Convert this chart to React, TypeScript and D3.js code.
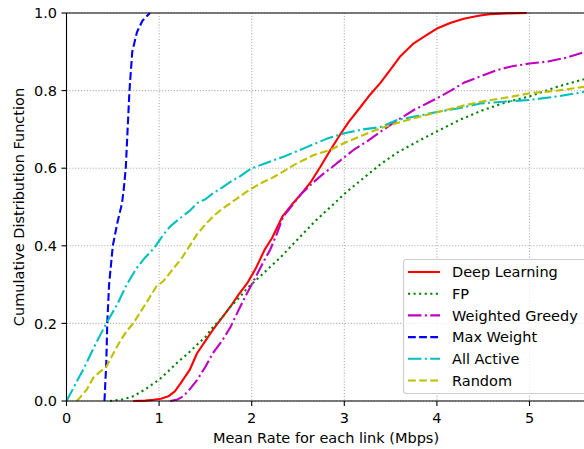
import { scaleLinear, line } from "d3";

// CDF curves
const deepLearningX = [0.72, 0.85, 0.94, 1.02, 1.1, 1.17, 1.23, 1.33, 1.41, 1.5, 1.58, 1.68, 1.77, 1.86, 1.95, 2.04, 2.14, 2.22, 2.33, 2.43, 2.54, 2.64, 2.74, 2.85, 2.95, 3.05, 3.15, 3.28, 3.39, 3.5, 3.6, 3.75, 3.9, 4.0, 4.15, 4.29, 4.45, 4.57, 4.75, 4.97];
const deepLearningY = [0, 0.001, 0.003, 0.006, 0.012, 0.025, 0.045, 0.08, 0.123, 0.155, 0.183, 0.215, 0.243, 0.275, 0.303, 0.34, 0.39, 0.42, 0.475, 0.505, 0.535, 0.565, 0.603, 0.647, 0.685, 0.72, 0.75, 0.79, 0.82, 0.855, 0.887, 0.922, 0.945, 0.96, 0.975, 0.985, 0.993, 0.997, 0.999, 1.0];

const fpX = [0.47, 0.6, 0.72, 0.85, 1.0, 1.1, 1.2, 1.3, 1.41, 1.5, 1.58, 1.68, 1.77, 1.86, 1.95, 2.13, 2.31, 2.49, 2.67, 2.85, 3.03, 3.21, 3.39, 3.57, 3.8, 4.0, 4.25, 4.5, 4.75, 5.0, 5.3, 5.6];
const fpY = [0, 0.004, 0.012, 0.03, 0.055, 0.077, 0.1, 0.12, 0.145, 0.165, 0.19, 0.215, 0.243, 0.265, 0.29, 0.33, 0.37, 0.415, 0.46, 0.5, 0.54, 0.575, 0.61, 0.64, 0.67, 0.695, 0.725, 0.75, 0.77, 0.785, 0.81, 0.83];

const greedyX = [1.12, 1.2, 1.26, 1.33, 1.41, 1.5, 1.58, 1.68, 1.77, 1.86, 1.95, 2.04, 2.13, 2.2, 2.27, 2.34, 2.44, 2.54, 2.65, 2.76, 2.87, 3.0, 3.1, 3.25, 3.39, 3.55, 3.75, 3.9, 4.0, 4.15, 4.29, 4.45, 4.65, 4.8, 5.0, 5.2, 5.4, 5.6];
const greedyY = [0, 0.004, 0.012, 0.03, 0.054, 0.088, 0.123, 0.155, 0.19, 0.235, 0.278, 0.318, 0.36, 0.39, 0.43, 0.475, 0.505, 0.535, 0.56, 0.583, 0.603, 0.628, 0.647, 0.67, 0.694, 0.72, 0.75, 0.768, 0.78, 0.8, 0.82, 0.835, 0.853, 0.862, 0.87, 0.875, 0.885, 0.9];

const maxWeightX = [0.41, 0.42, 0.43, 0.44, 0.46, 0.5, 0.55, 0.58, 0.6, 0.62, 0.64, 0.66, 0.68, 0.71, 0.76, 0.82, 0.9];
const maxWeightY = [0, 0.05, 0.1, 0.2, 0.3, 0.4, 0.46, 0.49, 0.51, 0.55, 0.6, 0.7, 0.8, 0.9, 0.95, 0.98, 1.0];

const allActiveX = [0, 0.1, 0.2, 0.3, 0.43, 0.55, 0.65, 0.75, 0.85, 0.95, 1.05, 1.12, 1.22, 1.33, 1.41, 1.5, 1.58, 1.68, 1.77, 1.88, 2.0, 2.12, 2.23, 2.35, 2.45, 2.6, 2.8, 3.0, 3.2, 3.39, 3.57, 3.8, 4.0, 4.25, 4.47, 4.75, 5.0, 5.3, 5.6];
const allActiveY = [0, 0.045, 0.09, 0.14, 0.2, 0.25, 0.3, 0.34, 0.37, 0.395, 0.43, 0.45, 0.47, 0.49, 0.51, 0.52, 0.535, 0.55, 0.565, 0.58, 0.6, 0.61, 0.62, 0.63, 0.64, 0.655, 0.675, 0.69, 0.7, 0.706, 0.724, 0.735, 0.745, 0.755, 0.767, 0.772, 0.776, 0.785, 0.797];

const randomX = [0.11, 0.15, 0.22, 0.29, 0.36, 0.43, 0.5, 0.58, 0.65, 0.72, 0.8, 0.88, 0.97, 1.05, 1.15, 1.25, 1.37, 1.41, 1.5, 1.58, 1.68, 1.77, 1.86, 1.95, 2.04, 2.13, 2.22, 2.31, 2.4, 2.49, 2.58, 2.67, 2.85, 3.0, 3.2, 3.39, 3.55, 3.74, 3.9, 4.1, 4.3, 4.47, 4.75, 5.0, 5.3, 5.6];
const randomY = [0, 0.01, 0.03, 0.06, 0.075, 0.088, 0.12, 0.155, 0.18, 0.2, 0.23, 0.26, 0.295, 0.31, 0.34, 0.37, 0.415, 0.43, 0.455, 0.475, 0.495, 0.51, 0.525, 0.54, 0.553, 0.565, 0.575, 0.587, 0.6, 0.613, 0.623, 0.634, 0.647, 0.665, 0.685, 0.703, 0.715, 0.728, 0.738, 0.75, 0.762, 0.771, 0.782, 0.793, 0.8, 0.81];

const xTicks = [0, 1, 2, 3, 4, 5];
const yTicks = [0, 0.2, 0.4, 0.6, 0.8, 1.0];

const LW = 2.1;

const series = [
  { label: "Deep Learning", xs: deepLearningX, ys: deepLearningY, color: "#ff0000", dash: "none" },
  { label: "FP", xs: fpX, ys: fpY, color: "#008000", dash: `${LW},${LW * 1.65}` },
  { label: "Weighted Greedy", xs: greedyX, ys: greedyY, color: "#bf00bf", dash: `${LW * 6.4},${LW * 1.6},${LW},${LW * 1.6}` },
  { label: "Max Weight", xs: maxWeightX, ys: maxWeightY, color: "#0000ff", dash: `${LW * 3.7},${LW * 1.6}` },
  { label: "All Active", xs: allActiveX, ys: allActiveY, color: "#00bfbf", dash: `${LW * 6.4},${LW * 1.6},${LW},${LW * 1.6}` },
  { label: "Random", xs: randomX, ys: randomY, color: "#bfbf00", dash: `${LW * 3.7},${LW * 1.6}` },
];

const W = 584;
const H = 449;
const left = 66.5;
const top = 13;
const bottom = 401;
const font = "DejaVu Sans, sans-serif";

export default function App() {
  // the figure is cropped on the right, so the axis runs past the window
  const x = scaleLinear().domain([0, 6]).range([left, left + 92.6 * 6]);
  const y = scaleLinear().domain([0, 1]).range([bottom, top]);
  const right = x(6);

  const path = line<[number, number]>()
    .x((d) => x(d[0]))
    .y((d) => y(d[1]));

  return (
    <svg
      width={W}
      height={H}
      style={{ position: "absolute", left: 0, top: 0, background: "#fff" }}
      fontFamily={font}
    >
      <defs>
        <clipPath id="plot">
          <rect x={left} y={top - 2} width={right - left} height={bottom - top + 4} />
        </clipPath>
      </defs>

      {/* Grid */}
      {xTicks.map((t) => (
        <line key={`gx-${t}`} x1={x(t)} x2={x(t)} y1={top} y2={bottom}
          stroke="#b0b0b0" strokeWidth={1.1} strokeDasharray="1.1,1.8" />
      ))}
      {yTicks.map((t) => (
        <line key={`gy-${t}`} x1={left} x2={right} y1={y(t)} y2={y(t)}
          stroke="#b0b0b0" strokeWidth={1.1} strokeDasharray="1.1,1.8" />
      ))}

      {/* Curves */}
      <g clipPath="url(#plot)">
        {series.map((s) => (
          <path
            key={s.label}
            d={path(s.xs.map((v, i) => [v, s.ys[i]] as [number, number])) ?? ""}
            fill="none"
            stroke={s.color}
            strokeWidth={LW}
            strokeDasharray={s.dash}
            strokeLinejoin="round"
          />
        ))}
      </g>

      {/* Spines */}
      <line x1={left} x2={left} y1={top} y2={bottom} stroke="#000" strokeWidth={1.1} />
      <line x1={left} x2={right} y1={bottom} y2={bottom} stroke="#000" strokeWidth={1.1} />
      <line x1={left} x2={right} y1={top} y2={top} stroke="#000" strokeWidth={1.1} />

      {/* X axis */}
      {xTicks.map((t) => (
        <g key={`xt-${t}`}>
          <line x1={x(t)} x2={x(t)} y1={bottom} y2={bottom + 5} stroke="#000" strokeWidth={1.1} />
          <text x={x(t)} y={423} textAnchor="middle" fontSize={14.5} fill="#000">
            {t}
          </text>
        </g>
      ))}
      <text x={326} y={443} textAnchor="middle" fontSize={14.5} fill="#000">
        Mean Rate for each link (Mbps)
      </text>

      {/* Y axis */}
      {yTicks.map((t) => (
        <g key={`yt-${t}`}>
          <line x1={left - 5} x2={left} y1={y(t)} y2={y(t)} stroke="#000" strokeWidth={1.1} />
          <text x={57} y={y(t)} dy="0.36em" textAnchor="end" fontSize={14.5} fill="#000">
            {t.toFixed(1)}
          </text>
        </g>
      ))}
      <text
        transform={`translate(24, ${(top + bottom) / 2}) rotate(-90)`}
        textAnchor="middle"
        fontSize={14.5}
        fill="#000"
      >
        Cumulative Distribution Function
      </text>

      {/* Legend */}
      <rect x={403.5} y={259.5} width={200} height={134} rx={3}
        fill="#fff" fillOpacity={0.8} stroke="#cccccc" strokeWidth={1.1} />
      {series.map((s, i) => {
        const cy = 272 + i * 21.7;
        return (
          <g key={`lg-${s.label}`}>
            <line x1={408} x2={440} y1={cy} y2={cy} stroke={s.color}
              strokeWidth={LW} strokeDasharray={s.dash} />
            <text x={452} y={cy} dy="0.36em" fontSize={14.5} fill="#000">
              {s.label}
            </text>
          </g>
        );
      })}
    </svg>
  );
}
